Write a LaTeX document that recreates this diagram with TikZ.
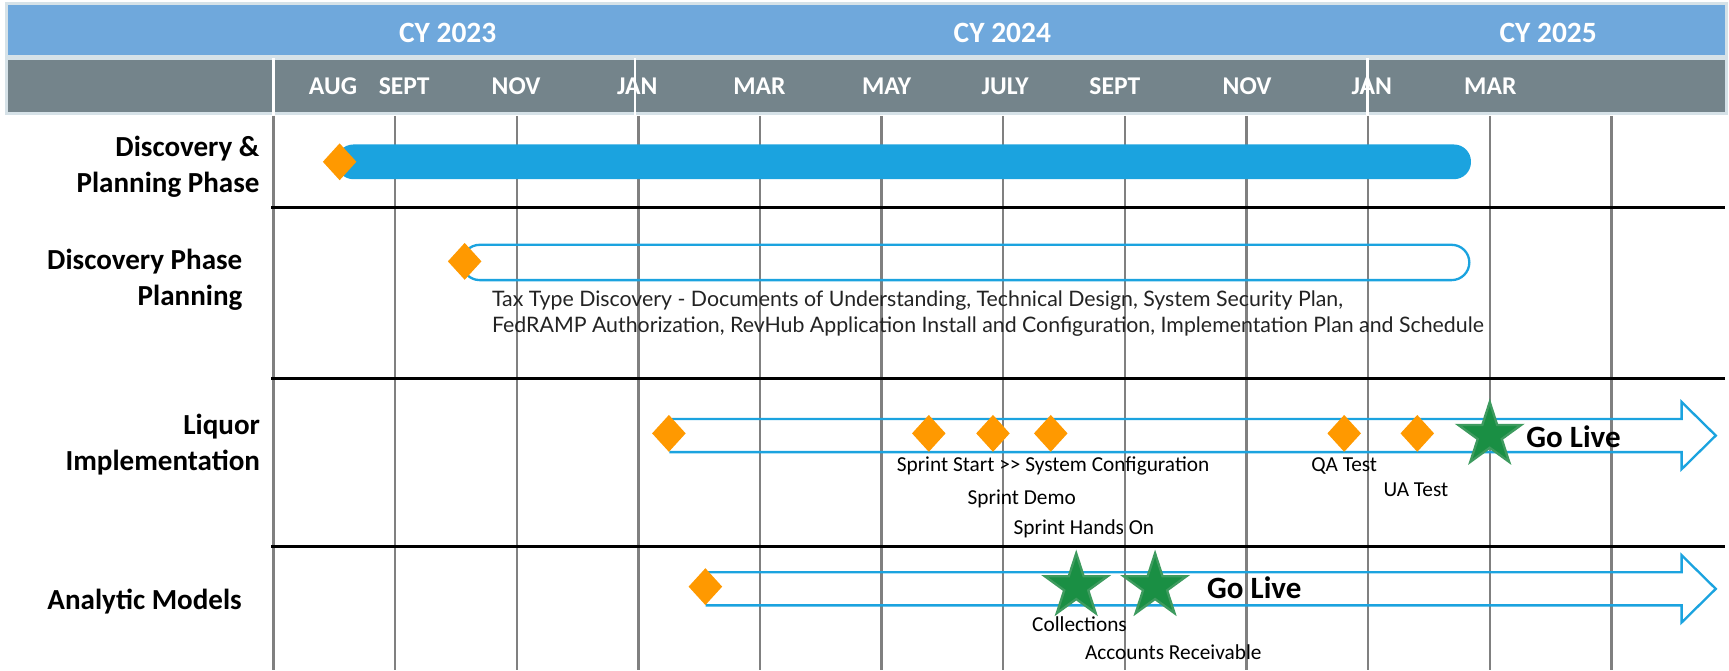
\documentclass[tikz,border=0pt]{standalone}
\usepackage{fontspec}
\setmainfont{Carlito}
\newfontfamily\taxfont{Lato}
\usepackage{tikz}
\usetikzlibrary{shapes,arrows,positioning,calc}
\definecolor{hdrblue}{RGB}{111,168,220}
\definecolor{hdrgray}{RGB}{116,132,139}
\definecolor{hdredge}{RGB}{214,226,232}
\definecolor{barblue}{RGB}{27,163,223}
\definecolor{msorange}{RGB}{255,153,0}
\definecolor{stargreen}{RGB}{26,143,68}
\definecolor{staredge}{RGB}{62,155,95}
\definecolor{gridgray}{RGB}{128,128,128}
\definecolor{taxgray}{RGB}{35,35,35}
\tikzstyle{ms} = [diamond, fill=msorange, inner sep=0pt, minimum width=0.31cm, minimum height=0.34cm]
\tikzstyle{golive} = [star, star points=5, star point ratio=2.618, fill=stargreen, draw=staredge, line width=0.6pt, inner sep=0pt, minimum size=0.6cm]
\tikzstyle{rowlabel} = [anchor=east, align=right, inner sep=0pt, font=\fontsize{7.5}{9.3}\selectfont\bfseries]
\tikzstyle{month} = [text=white, inner sep=0pt, font=\fontsize{6.6}{8}\selectfont\bfseries]
\tikzstyle{year} = [text=white, inner sep=0pt, font=\fontsize{7.6}{9}\selectfont\bfseries]
\tikzstyle{note} = [inner sep=0pt, font=\fontsize{5.5}{6.5}\selectfont]
\tikzstyle{golabel} = [inner sep=0pt, font=\fontsize{8}{9}\selectfont\bfseries]
\tikzstyle{track} = [draw=barblue, line width=0.6pt]

\begin{document}
\begin{tikzpicture}
    \useasboundingbox (0,0) rectangle (15.68,-6.08);
    % Header bands
    \filldraw[fill=hdrblue, draw=hdredge, line width=0.8pt] (0.06,-0.03) rectangle (15.66,-0.51);
    \filldraw[fill=hdrgray, draw=hdredge, line width=0.8pt] (0.06,-0.53) rectangle (15.66,-1.03);
    \foreach \x in {2.48,5.76,12.40}
        \draw[white, line width=0.6pt] (\x,-0.53) -- (\x,-1.04);
    
    % Years
    \node[year] (cy23) at (4.06,-0.30) {CY 2023};
    \node[year] (cy24) at (9.09,-0.30) {CY 2024};
    \node[year] (cy25) at (14.04,-0.30) {CY 2025};
    
    % Months
    \foreach \m/\x [count=\k] in {AUG/3.02,SEPT/3.665,NOV/4.68,JAN/5.78,MAR/6.887,MAY/8.04,JULY/9.115,SEPT/10.11,NOV/11.31,JAN/12.44,MAR/13.515}
        \node[month] (mon\k) at (\x,-0.78) {\m};
    
    % Month grid
    \foreach \i in {0,...,11}
        \draw[gridgray, line width=0.6pt] ({2.48+1.103*\i},-1.05) -- ({2.48+1.103*\i},-6.08);
    
    % Row separators
    \foreach \y in {-1.88,-3.435,-4.955}
        \draw[line width=0.8pt] (2.46,\y) -- (15.64,\y);
    
    % Row labels
    \node[rowlabel] (lbl1) at (2.36,-1.516) {Discovery \&\\Planning Phase};
    \node[rowlabel] (lbl2) at (2.205,-2.54) {Discovery Phase\\Planning};
    \node[rowlabel] (lbl3) at (2.365,-4.03) {Liquor\\Implementation};
    \node[rowlabel] (lbl4) at (2.20,-5.456) {Analytic Models};
    
    % Discovery & Planning Phase
    \fill[barblue, rounded corners=0.155cm] (3.05,-1.31) rectangle (13.34,-1.625);
    \node[ms] (dp1) at (3.08,-1.467) {};
    
    % Discovery Phase Planning
    \draw[track, rounded corners=0.16cm] (4.19,-2.22) rectangle (13.325,-2.54);
    \node[ms] (dp2) at (4.214,-2.37) {};
    \node[anchor=west, align=left, inner sep=0pt, text=taxgray, font=\taxfont\fontsize{5.5}{6.7}\selectfont] (tax) at (4.455,-2.84)
        {Tax Type Discovery - Documents of Understanding, Technical Design, System Security Plan,\\FedRAMP Authorization, RevHub Application Install and Configuration, Implementation Plan and Schedule};
    
    % Liquor Implementation
    \draw[track] (6.07,-3.80) -- (15.25,-3.80) -- (15.25,-3.645) -- (15.56,-3.95) -- (15.25,-4.255) -- (15.25,-4.10) -- (6.07,-4.10);
    \foreach \x [count=\k] in {6.066,8.423,9.005,9.529,12.19,12.853}
        \node[ms] (lq\k) at (\x,-3.93) {};
    \node[golive] (lqlive) at (13.51,-3.946) {};
    \node[golabel] (lqgo) at (14.27,-3.96) {Go Live};
    \node[note] (sprint) at (9.55,-4.226) {Sprint Start >{}> System Configuration};
    \node[note] (demo) at (9.266,-4.525) {Sprint Demo};
    \node[note] (hands) at (9.83,-4.80) {Sprint Hands On};
    \node[note] (qa) at (12.19,-4.225) {QA Test};
    \node[note] (ua) at (12.84,-4.44) {UA Test};
    
    % Analytic Models
    \draw[track] (6.40,-5.19) -- (15.25,-5.19) -- (15.25,-5.035) -- (15.56,-5.34) -- (15.25,-5.645) -- (15.25,-5.49) -- (6.40,-5.49);
    \node[ms] (am1) at (6.397,-5.32) {};
    \node[golive] (amlive1) at (9.76,-5.318) {};
    \node[golive] (amlive2) at (10.475,-5.318) {};
    \node[golabel] (amgo) at (11.375,-5.334) {Go Live};
    \node[note] (coll) at (9.79,-5.66) {Collections};
    \node[note] (ar) at (10.64,-5.91) {Accounts Receivable};
\end{tikzpicture}
\end{document}
